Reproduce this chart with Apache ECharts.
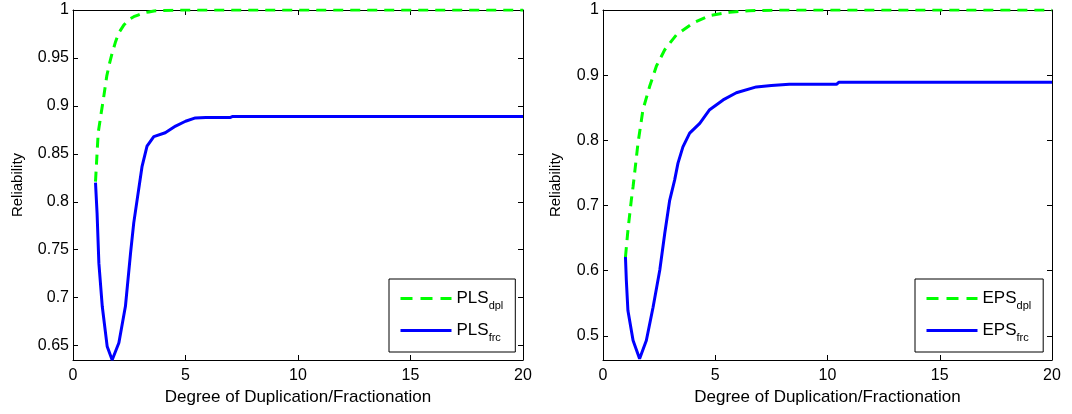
<!DOCTYPE html>
<html>
<head>
<meta charset="utf-8">
<script src="https://cdn.jsdelivr.net/npm/echarts@6/dist/echarts.min.js"></script>
<style>
html,body{margin:0;padding:0;background:#fff;}
#chart{width:1072px;height:414px;}
</style>
</head>
<body>
<div id="chart"></div>
<script>
// ---------- data ----------
const xTicks = [0, 5, 10, 15, 20];
const leftYTicks = [0.65, 0.7, 0.75, 0.8, 0.85, 0.9, 0.95, 1];
const rightYTicks = [0.5, 0.6, 0.7, 0.8, 0.9, 1];
const xAxisTitle = 'Degree of Duplication/Fractionation';
const yAxisTitle = 'Reliability';
const seriesNames = ['PLS_dpl', 'PLS_frc', 'EPS_dpl', 'EPS_frc'];

const plsDplX = [1, 1.12, 1.25, 1.35, 1.5, 1.62, 1.74, 1.88, 2.03, 2.25, 2.48, 2.7, 2.92, 3.15, 3.37, 3.6, 4, 5, 7, 10, 15, 20];
const plsDplY = [0.821, 0.872, 0.892, 0.907, 0.931, 0.944, 0.955, 0.966, 0.976, 0.984, 0.990, 0.993, 0.995, 0.997, 0.998, 0.999, 0.9995, 1, 1, 1, 1, 1];

const plsFrcX = [1, 1.07, 1.15, 1.3, 1.52, 1.74, 2.04, 2.33, 2.56, 2.7, 2.85, 3.07, 3.29, 3.59, 4.1, 4.56, 5.0, 5.44, 5.9, 7.0, 7.1, 10, 15, 20];
const plsFrcY = [0.82, 0.788, 0.736, 0.691, 0.649, 0.635, 0.653, 0.691, 0.747, 0.778, 0.802, 0.837, 0.858, 0.868, 0.872, 0.879, 0.884, 0.8875, 0.888, 0.888, 0.889, 0.889, 0.889, 0.889];

const epsDplX = [1, 1.11, 1.26, 1.34, 1.56, 1.78, 2.08, 2.38, 2.75, 3.27, 4.01, 4.75, 5.64, 6.5, 8, 10, 15, 20];
const epsDplY = [0.621, 0.662, 0.708, 0.729, 0.796, 0.847, 0.883, 0.914, 0.939, 0.962, 0.980, 0.9915, 0.9966, 0.999, 1, 1, 1, 1];

const epsFrcX = [1, 1.04, 1.11, 1.34, 1.63, 1.93, 2.23, 2.53, 2.75, 2.97, 3.19, 3.34, 3.56, 3.86, 4.31, 4.75, 5.35, 5.94, 6.83, 7.5, 8.3, 10.4, 10.5, 15, 20];
const epsFrcY = [0.621, 0.585, 0.539, 0.493, 0.465, 0.493, 0.544, 0.601, 0.657, 0.708, 0.739, 0.765, 0.790, 0.811, 0.826, 0.847, 0.862, 0.873, 0.882, 0.884, 0.886, 0.886, 0.889, 0.889, 0.889];

const leftYMin = 0.635, rightYMin = 0.463;

// ---------- chart ----------
const FONT = 'Liberation Sans, Arial, sans-serif';
const zip = (xs, ys) => xs.map((x, i) => [x, ys[i]]);

function xAx(grid, pos, show) {
  return {
    type: 'value', gridIndex: grid, position: pos, min: 0, max: 20, interval: 5,
    name: show ? xAxisTitle : '', nameLocation: 'middle', nameGap: 27,
    nameTextStyle: { color: '#000', fontSize: 17, fontFamily: FONT },
    axisLine: { show: true, onZero: false, lineStyle: { color: '#000', width: 1 } },
    axisTick: { show: true, inside: true, length: 5, lineStyle: { color: '#000' } },
    axisLabel: { show: show, color: '#000', fontSize: 16, fontFamily: FONT, margin: 8 },
    splitLine: { show: false }
  };
}
function yAx(grid, pos, show, min, ticks, gap) {
  return {
    type: 'value', gridIndex: grid, position: pos, min: min, max: 1,
    name: show ? yAxisTitle : '', nameLocation: 'middle', nameGap: gap, nameRotate: 90,
    nameTextStyle: { color: '#000', fontSize: 15, fontFamily: FONT },
    axisLine: { show: true, onZero: false, lineStyle: { color: '#000', width: 1 } },
    axisTick: { show: true, inside: true, length: 5, customValues: ticks, lineStyle: { color: '#000' } },
    axisLabel: { show: show, color: '#000', fontSize: 16, fontFamily: FONT, margin: 4, customValues: ticks },
    splitLine: { show: false }
  };
}
function legendCfg(left, names) {
  return {
    left: left, top: 279, orient: 'vertical',
    data: [
      { name: names[0], lineStyle: { type: [12, 8], width: 3 } },
      { name: names[1], lineStyle: { width: 3 } }
    ],
    itemWidth: 51, itemHeight: 12, itemGap: 11,
    borderColor: '#000', borderWidth: 1, borderRadius: 0, backgroundColor: '#fff',
    padding: [11, 12, 9, 10],
    itemStyle: { opacity: 0 },
    formatter: n => { const p = n.split('_'); return '{a|' + p[0] + '}{b|' + p[1] + '}'; },
    textStyle: {
      color: '#000', fontFamily: FONT,
      rich: {
        a: { fontSize: 17, fontFamily: FONT, color: '#000' },
        b: { fontSize: 11, fontFamily: FONT, color: '#000', padding: [14, 0, 0, 0] }
      }
    }
  };
}
function line(name, xi, yi, data, color, dashed) {
  return {
    name: name, type: 'line', xAxisIndex: xi, yAxisIndex: yi, data: data,
    symbol: 'none', showSymbol: false, smooth: false, animation: false,
    lineStyle: { color: color, width: 3, type: dashed ? [10, 7] : 'solid' },
    itemStyle: { color: color }
  };
}

const chart = echarts.init(document.getElementById('chart'), null, { renderer: 'canvas' });
chart.setOption({
  backgroundColor: '#fff',
  animation: false,
  grid: [
    { left: 73, top: 10, width: 450, height: 350 },
    { left: 603, top: 10, width: 449, height: 350 }
  ],
  xAxis: [xAx(0, 'bottom', true), xAx(0, 'top', false), xAx(1, 'bottom', true), xAx(1, 'top', false)],
  yAxis: [
    yAx(0, 'left', true, leftYMin, leftYTicks, 48), yAx(0, 'right', false, leftYMin, leftYTicks, 0),
    yAx(1, 'left', true, rightYMin, rightYTicks, 40), yAx(1, 'right', false, rightYMin, rightYTicks, 0)
  ],
  legend: [legendCfg(389, [seriesNames[0], seriesNames[1]]), legendCfg(915, [seriesNames[2], seriesNames[3]])],
  series: [
    line(seriesNames[0], 0, 0, zip(plsDplX, plsDplY), '#00ff00', true),
    line(seriesNames[1], 0, 0, zip(plsFrcX, plsFrcY), '#0000ff', false),
    line(seriesNames[2], 2, 2, zip(epsDplX, epsDplY), '#00ff00', true),
    line(seriesNames[3], 2, 2, zip(epsFrcX, epsFrcY), '#0000ff', false)
  ]
});
</script>
</body>
</html>
